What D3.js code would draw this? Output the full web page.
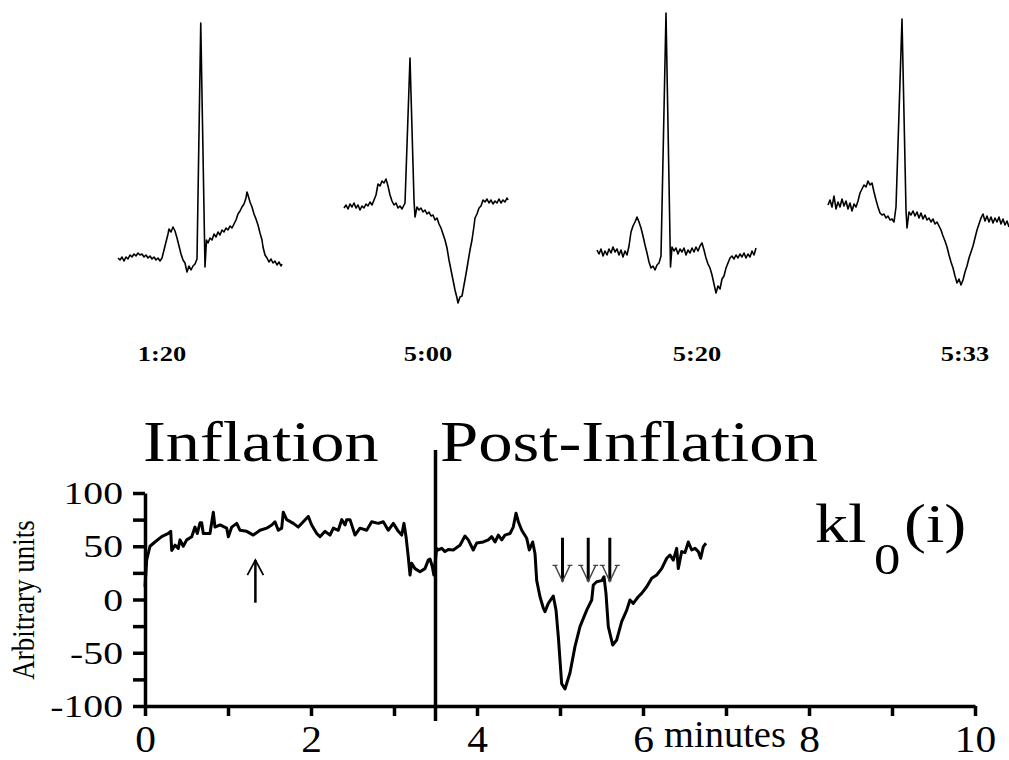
<!DOCTYPE html>
<html>
<head>
<meta charset="utf-8">
<script src="https://cdn.jsdelivr.net/npm/d3@7"></script>
<style>
  html, body { margin: 0; padding: 0; background: #fff; }
  svg { display: block; }
  text { font-family: "Liberation Serif", "Times New Roman", serif; fill: #000; }
</style>
</head>
<body>
<svg id="chart" width="1009" height="760"></svg>
<script>
// ---------- ECG beats (time in ms from start of strip, amplitude in mV) ----------
const ecgLabels = ["1:20", "5:00", "5:20", "5:33"];

const ecg_1_20 = [
  [0,0.00],[8,-0.02],[16,0.01],[24,-0.03],[32,0.01],[40,-0.01],[48,0.03],[56,0.01],[64,0.04],[72,0.02],
  [80,0.05],[88,0.03],[96,0.04],[104,0.01],[112,0.03],[120,0.00],[128,0.02],[136,-0.01],[144,0.01],[152,-0.02],
  [160,0.00],[168,-0.03],[176,0.00],[184,0.08],[192,0.16],[200,0.24],[204,0.29],[212,0.26],[220,0.31],[228,0.27],
  [236,0.20],[244,0.12],[252,0.04],[260,-0.02],[268,-0.05],[276,-0.14],[284,-0.08],[292,-0.12],[300,-0.08],[308,-0.06],
  [316,-0.01],[331,2.35],[348,-0.09],[354,0.18],[360,0.15],[368,0.20],[376,0.18],[384,0.24],[392,0.21],[400,0.26],
  [408,0.23],[416,0.28],[424,0.26],[432,0.30],[440,0.28],[448,0.32],[456,0.30],[464,0.34],[472,0.38],[480,0.44],
  [488,0.47],[496,0.51],[504,0.54],[512,0.60],[516,0.66],[520,0.63],[528,0.56],[536,0.51],[544,0.44],[552,0.39],
  [560,0.33],[568,0.25],[576,0.18],[580,0.11],[588,0.03],[596,0.00],[604,-0.04],[612,-0.01],[620,-0.05],[628,-0.03],
  [636,-0.07],[644,-0.04],[652,-0.08],[656,-0.06]
];

const ecg_5_00 = [
  [0,-0.01],[8,0.02],[16,-0.02],[24,0.03],[32,0.00],[40,0.04],[48,-0.01],[56,0.02],[64,-0.03],[72,0.01],
  [80,-0.01],[88,0.03],[96,0.01],[104,0.05],[112,0.02],[120,0.07],[128,0.12],[136,0.23],[144,0.21],[152,0.26],
  [160,0.24],[168,0.28],[176,0.21],[184,0.12],[192,0.06],[200,0.02],[208,0.04],[216,-0.01],[224,0.01],[232,-0.02],
  [240,0.02],[244,0.04],[264,1.49],[280,0.07],[284,-0.10],[292,0.00],[300,-0.03],[308,-0.01],[316,-0.05],[324,-0.03],
  [332,-0.07],[340,-0.05],[348,-0.09],[356,-0.08],[364,-0.13],[372,-0.11],[380,-0.17],[388,-0.21],[396,-0.27],[404,-0.33],
  [412,-0.41],[420,-0.53],[428,-0.63],[436,-0.73],[444,-0.83],[452,-0.91],[456,-0.96],[464,-0.90],[472,-0.89],[480,-0.78],
  [488,-0.67],[496,-0.55],[504,-0.43],[512,-0.33],[520,-0.19],[524,-0.11],[532,-0.07],[540,-0.01],[548,0.01],[556,0.07],
  [564,0.05],[572,0.08],[580,0.04],[588,0.07],[596,0.03],[604,0.06],[612,0.04],[620,0.08],[628,0.04],[636,0.07],
  [644,0.05],[652,0.09],[656,0.07]
];

const ecg_5_20 = [
  [0,0.02],[8,-0.02],[16,0.03],[24,-0.04],[32,0.01],[40,-0.03],[48,0.03],[56,-0.01],[64,0.05],[72,0.00],
  [80,0.03],[88,-0.03],[96,0.02],[104,-0.05],[112,0.01],[120,-0.03],[128,0.06],[136,0.20],[144,0.26],[152,0.30],
  [160,0.35],[168,0.30],[176,0.24],[184,0.16],[192,0.07],[200,-0.01],[208,-0.10],[216,-0.16],[224,-0.14],[232,-0.18],
  [240,-0.13],[248,-0.11],[256,-0.04],[276,2.39],[290,0.42],[294,-0.15],[300,0.05],[308,0.01],[316,0.04],[324,-0.02],
  [332,0.03],[340,0.00],[348,0.04],[356,-0.03],[364,0.02],[372,-0.01],[380,0.04],[388,0.00],[396,0.05],[404,0.01],
  [412,0.06],[420,0.09],[428,0.02],[436,-0.06],[444,-0.12],[452,-0.16],[460,-0.23],[468,-0.32],[476,-0.41],[484,-0.34],
  [492,-0.37],[500,-0.27],[508,-0.24],[516,-0.16],[524,-0.11],[532,-0.06],[540,-0.04],[548,-0.07],[556,-0.03],[564,-0.06],
  [572,-0.02],[580,-0.05],[588,-0.01],[596,-0.06],[604,-0.02],[612,-0.05],[620,0.01],[628,-0.03],[636,0.04]
];

const ecg_5_33 = [
  [0,0.00],[8,0.05],[16,-0.02],[24,0.09],[32,-0.04],[40,0.03],[48,-0.02],[56,0.06],[64,-0.01],[72,0.04],
  [80,-0.04],[88,0.02],[96,-0.06],[104,0.01],[112,-0.02],[120,0.04],[128,0.12],[136,0.16],[144,0.20],[152,0.18],
  [160,0.24],[168,0.20],[176,0.22],[184,0.13],[192,0.05],[200,-0.02],[208,-0.08],[216,-0.10],[224,-0.09],[232,-0.13],
  [240,-0.11],[248,-0.15],[256,-0.14],[264,-0.17],[272,-0.02],[296,1.86],[312,-0.05],[316,-0.23],[324,-0.07],[332,-0.10],
  [340,-0.06],[348,-0.11],[356,-0.07],[364,-0.13],[372,-0.08],[380,-0.14],[388,-0.10],[396,-0.15],[404,-0.13],[412,-0.17],
  [420,-0.14],[428,-0.19],[436,-0.17],[444,-0.21],[452,-0.25],[460,-0.31],[468,-0.36],[476,-0.42],[484,-0.50],[492,-0.57],
  [500,-0.63],[508,-0.71],[516,-0.78],[524,-0.74],[532,-0.80],[540,-0.75],[548,-0.67],[556,-0.61],[564,-0.53],[572,-0.47],
  [580,-0.41],[588,-0.33],[596,-0.25],[604,-0.19],[612,-0.13],[620,-0.09],[628,-0.16],[636,-0.11],[644,-0.17],[652,-0.12],
  [660,-0.18],[668,-0.13],[676,-0.17],[684,-0.12],[692,-0.19],[700,-0.14],[708,-0.20],[716,-0.16],[724,-0.22]
];

// ---------- kl0(i) trend (time in minutes, arbitrary units) ----------
const inflationMinutes = [
  0.000,0.020,0.060,0.120,0.201,0.281,0.310,0.322,0.361,0.401,0.422,0.461,0.502,0.563,0.602,0.630,0.663,0.683,0.702,0.783,
  0.823,0.843,0.904,0.984,1.004,1.045,1.105,1.145,1.225,1.305,1.386,1.466,1.527,1.566,1.606,1.647,1.666,1.707,1.787,1.847,
  1.907,1.967,2.008,2.069,2.108,2.169,2.229,2.269,2.329,2.370,2.410,2.430,2.470,2.530,2.590,2.671,2.731,2.811,2.871,2.931,
  2.992,3.052,3.093,3.120,3.145,3.172,3.193,3.213,3.253,3.313,3.373,3.413,3.434,3.461,3.480
];
const inflationValues = [
  12,37,50,54,59,62,64,46,51,48,56,50,56,59,68,62,72,72,62,62,
  82,68,70,67,59,68,71.5,65,64,60.5,65,67,70,73,65,67,82,75,71.5,68,
  73,78,70,62,59,64,60.5,67,65,75,70,75,75,60.5,67,65,73,71.5,73,65,
  71.5,64,60.5,71.5,59,40,23,34,29,26,29,37,38,31,23
];
const postMinutes = [
  3.514,3.534,3.575,3.614,3.654,3.714,3.795,3.855,3.895,3.955,3.996,4.076,4.136,4.177,4.217,4.257,4.298,4.337,4.398,4.437,
  4.470,4.498,4.539,4.599,4.630,4.671,4.699,4.719,4.759,4.799,4.819,4.859,4.919,4.952,4.980,5.020,5.060,5.088,5.120,5.181,
  5.241,5.322,5.382,5.401,5.442,5.502,5.530,5.554,5.582,5.635,5.683,5.743,5.804,5.843,5.883,5.943,5.984,6.045,6.105,6.165,
  6.225,6.286,6.325,6.365,6.406,6.425,6.466,6.506,6.546,6.587,6.627,6.666,6.695,6.727,6.759
];
const postValues = [
  48,46.5,48,45,47,46.5,51,59.6,56,46.5,53,54,56,59,54,60.5,56,60.5,62,68,
  81,73,65,57.5,46.5,54,43,18,2.6,-8,-11.5,-3.6,3.3,-10,-35,-79,-84,-77,-69,-44,
  -25.5,-10,-0.5,13.6,16.7,17.7,21.4,5.8,-25.5,-42.7,-38,-20.8,-10,-0.5,-3.6,2.6,5.8,12,20,23,
  29,38.7,41.8,37,48,29,45,44,54,46.5,48,45,38.7,49.6,52.8
];

// Event markers (minutes) and the inflation / post-inflation boundary
const upArrowMinutes = [1.33];
const downArrowMinutes = [5.03, 5.34, 5.6];
const boundaryMinute = 3.5;

const xTicks = [0,1,2,3,4,5,6,7,8,9,10];
const xTickLabels = [0,2,4,6,8,10];
const yTicks = [-100,-75,-50,-25,0,25,50,75,100];
const yTickLabels = [-100,-50,0,50,100];

// ---------- drawing ----------
const svg = d3.select("#chart");

function stretchedText(parent, x, y, str, size, sx, anchor) {
  return parent.append("text")
    .attr("transform", `translate(${x},${y}) scale(${sx},1)`)
    .attr("text-anchor", anchor || "start")
    .style("font-size", size + "px")
    .text(str);
}

// ECG strips: each strip has its own horizontal placement and baseline
const strips = [
  { data: ecg_1_20, left: 118, baseline: 258, labelX: 162 },
  { data: ecg_5_00, left: 344, baseline: 207, labelX: 428 },
  { data: ecg_5_20, left: 597, baseline: 252, labelX: 697 },
  { data: ecg_5_33, left: 828, baseline: 205, labelX: 965 }
];
const PX_PER_MS = 0.25, PX_PER_MV = 100;

strips.forEach((s, i) => {
  const dur = d3.max(s.data, d => d[0]);
  const xs = d3.scaleLinear().domain([0, dur]).range([s.left, s.left + dur * PX_PER_MS]);
  const ys = d3.scaleLinear().domain([0, 1]).range([s.baseline, s.baseline - PX_PER_MV]);
  svg.append("path")
    .datum(s.data)
    .attr("fill", "none")
    .attr("stroke", "#000")
    .attr("stroke-width", 1.6)
    .attr("stroke-linejoin", "round")
    .attr("d", d3.line().x(d => xs(d[0])).y(d => ys(d[1])));
  stretchedText(svg, s.labelX, 361, ecgLabels[i], 22, 1.2, "middle")
    .style("font-weight", "bold");
});

// Trend chart
const x = d3.scaleLinear().domain([0, 10]).range([145, 975]);
const y = d3.scaleLinear().domain([-100, 100]).range([706, 493]);

// Phase titles
stretchedText(svg, 143, 461, "Inflation", 58, 1.18, "start");
stretchedText(svg, 440, 461, "Post-Inflation", 58, 1.185, "start");

// Boundary between phases
svg.append("line")
  .attr("x1", x(boundaryMinute)).attr("x2", x(boundaryMinute))
  .attr("y1", 450).attr("y2", 721)
  .attr("stroke", "#000").attr("stroke-width", 3.5);

// Axes
const xAxis = d3.axisBottom(x)
  .tickValues(xTicks)
  .tickSize(10)
  .tickSizeOuter(0)
  .tickFormat(d => xTickLabels.includes(d) ? d : "");
const gx = svg.append("g").attr("transform", `translate(0,${y(-100)})`).call(xAxis);
gx.select(".domain").attr("stroke-width", 3.5);
gx.selectAll(".tick line").attr("stroke-width", 3.5);
gx.selectAll(".tick text")
  .attr("y", 46).attr("dy", 0).attr("x", 0)
  .attr("transform", "scale(1.12,1)")
  .style("font-size", "37px")
  .style("font-family", "'Liberation Serif', 'Times New Roman', serif");

const yAxis = d3.axisLeft(y)
  .tickValues(yTicks)
  .tickSize(12)
  .tickSizeOuter(0)
  .tickFormat(d => yTickLabels.includes(d) ? d : "");
const gy = svg.append("g").attr("transform", `translate(${x(0)},0)`).call(yAxis);
gy.select(".domain").attr("stroke-width", 3.5);
gy.selectAll(".tick line").attr("stroke-width", 3.5);
gy.selectAll(".tick text")
  .attr("x", -22 / 1.28)
  .attr("dy", "0.34em")
  .attr("transform", "scale(1.28,1)")
  .style("font-size", "31px")
  .style("font-family", "'Liberation Serif', 'Times New Roman', serif");

// Axis titles
svg.append("text")
  .attr("transform", "translate(34,600) rotate(-90) scale(1,1.15)")
  .attr("text-anchor", "middle")
  .style("font-size", "27px")
  .text("Arbitrary units");
stretchedText(svg, 725, 747, "minutes", 37, 1.04, "middle");

// Trend line
const trend = inflationMinutes.map((m, i) => [m, inflationValues[i]])
  .concat(postMinutes.map((m, i) => [m, postValues[i]]));
svg.append("path")
  .datum(trend)
  .attr("fill", "none")
  .attr("stroke", "#000")
  .attr("stroke-width", 3)
  .attr("stroke-linejoin", "round")
  .attr("d", d3.line().x(d => x(d[0])).y(d => y(d[1])));

// Up arrow (during inflation)
upArrowMinutes.forEach(m => {
  const ax = x(m), top = y(37), bot = y(-3);
  svg.append("line").attr("x1", ax).attr("x2", ax).attr("y1", top).attr("y2", bot)
    .attr("stroke", "#000").attr("stroke-width", 2.5);
  svg.append("path")
    .attr("d", `M${ax - 8},${top + 15} L${ax},${top} L${ax + 8},${top + 15}`)
    .attr("fill", "none").attr("stroke", "#000").attr("stroke-width", 1.8);
});

// Down arrows (post-inflation)
downArrowMinutes.forEach(m => {
  const ax = x(m), top = y(58), bot = y(17);
  const hy = bot - 16;
  svg.append("line").attr("x1", ax).attr("x2", ax).attr("y1", top).attr("y2", bot)
    .attr("stroke", "#000").attr("stroke-width", 3);
  svg.append("path")
    .attr("d", `M${ax - 7.5},${hy} L${ax},${bot} L${ax + 7.5},${hy} M${ax - 10},${hy} H${ax - 5} M${ax + 5},${hy} H${ax + 10}`)
    .attr("fill", "none").attr("stroke", "#444").attr("stroke-width", 1.4);
});

// Series name: kl sub 0 (i)
const nameG = svg.append("g");
stretchedText(nameG, 815, 542, "kl", 55, 1.2, "start");
stretchedText(nameG, 874, 574, "0", 44, 1.2, "start");
stretchedText(nameG, 904, 542, "(i)", 55, 1.2, "start");
</script>
</body>
</html>
